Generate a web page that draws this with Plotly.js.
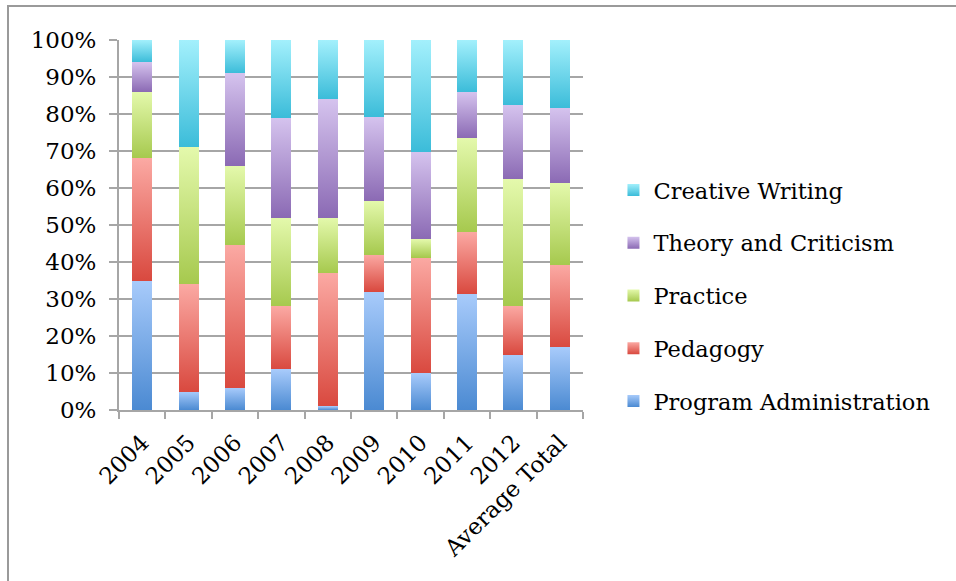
<!DOCTYPE html>
<html>
<head>
<meta charset="utf-8">
<script src="https://cdn.plot.ly/plotly-3.0.1.min.js"></script>
<style>
  html, body { margin: 0; padding: 0; background: #fff; }
  #wrap { position: relative; width: 956px; height: 581px; overflow: hidden; }
  #chart { position: absolute; left: 0; top: 0; width: 956px; height: 581px; }
  #frame { position: absolute; left: 7px; top: 5px; width: 1200px; height: 800px;
           border-left: 2px solid #9a9a9a; border-top: 2px solid #9a9a9a; pointer-events: none; }
</style>
</head>
<body>
<div id="wrap"><div id="chart"></div><div id="frame"></div></div>
<script>
const categories = ["2004","2005","2006","2007","2008","2009","2010","2011","2012","Average Total"];
const programAdministration = [35, 5, 6, 11, 1, 32, 10, 31.4, 14.9, 17.0];
const pedagogy              = [33, 29, 38.5, 17, 36, 10, 31.2, 16.7, 13.3, 22.2];
const practice              = [18, 37, 21.5, 24, 15, 14.5, 5, 25.4, 34.2, 22.2];
const theoryAndCriticism    = [8, 0, 25, 27, 32, 22.7, 23.5, 12.4, 20.0, 20.2];
const creativeWriting       = [6, 29, 9, 21, 16, 20.8, 30.3, 14.1, 17.6, 18.4];

const seriesNames = ["Program Administration","Pedagogy","Practice","Theory and Criticism","Creative Writing"];
const seriesValues = [programAdministration, pedagogy, practice, theoryAndCriticism, creativeWriting];
const midColors = ["#7aa9e4","#ea7a72","#c8e187","#b39cd6","#70d5ea"];
const gradTop = ["#a8cbfb","#fba9a3","#e4f9ac","#d5c3ee","#a3f0fc"];
const gradBot = ["#4b8ad2","#d9493f","#a6c94e","#8b6ab4","#3bbcd9"];

const FONT = "'DejaVu Serif', serif";
const FS = 23;
const LFS = 22.5;

const traces = seriesNames.map((name, i) => ({
  type: "bar",
  name: name,
  x: categories,
  y: seriesValues[i],
  legendgroup: "g" + i,
  legendrank: 100 - i,
  marker: { color: midColors[i], line: { width: 0 } },
  hoverinfo: "skip"
}));

const layout = {
  width: 956, height: 581,
  margin: { l: 119, r: 373, t: 40, b: 171 },
  paper_bgcolor: "#ffffff", plot_bgcolor: "#ffffff",
  barmode: "stack",
  bargap: 0.57,
  showlegend: true,
  font: { family: FONT, size: FS, color: "#000" },
  xaxis: {
    type: "category",
    tickangle: -45,
    tickson: "boundaries",
    ticks: "outside", ticklen: 7, tickwidth: 2, tickcolor: "#a6a6a6",
    ticklabelstandoff: 8,
    showline: true, linecolor: "#a6a6a6", linewidth: 2,
    showgrid: false,
    tickfont: { family: FONT, size: FS, color: "#000" },
    automargin: false
  },
  yaxis: {
    range: [0, 100],
    tickvals: [0,10,20,30,40,50,60,70,80,90,100],
    ticktext: ["0%","10%","20%","30%","40%","50%","60%","70%","80%","90%","100%"],
    ticks: "outside", ticklen: 8, tickwidth: 2, tickcolor: "#a6a6a6",
    ticklabelstandoff: 8,
    showline: true, linecolor: "#a6a6a6", linewidth: 2,
    showgrid: true, gridcolor: "#a6a6a6", gridwidth: 2,
    zeroline: false,
    tickfont: { family: FONT, size: FS, color: "#000" },
    automargin: false
  },
  legend: {
    xref: "container", x: 0.6417, xanchor: "left",
    y: 0.652, yanchor: "top",
    traceorder: "grouped",
    tracegroupgap: 20.5,
    font: { family: FONT, size: LFS, color: "#000" },
    itemclick: false, itemdoubleclick: false,
    bgcolor: "rgba(0,0,0,0)"
  }
};

Plotly.newPlot("chart", traces, layout, { staticPlot: true, displayModeBar: false }).then(gd => {
  const svg = gd.querySelector(".main-svg");
  const NS = "http://www.w3.org/2000/svg";
  let defs = svg.querySelector("defs");
  if (!defs) { defs = document.createElementNS(NS, "defs"); svg.insertBefore(defs, svg.firstChild); }
  seriesNames.forEach((n, i) => {
    const lg = document.createElementNS(NS, "linearGradient");
    lg.setAttribute("id", "grad" + i);
    lg.setAttribute("x1", "0"); lg.setAttribute("y1", "0");
    lg.setAttribute("x2", "0"); lg.setAttribute("y2", "1");
    const s1 = document.createElementNS(NS, "stop");
    s1.setAttribute("offset", "0"); s1.setAttribute("stop-color", gradTop[i]);
    const s2 = document.createElementNS(NS, "stop");
    s2.setAttribute("offset", "1"); s2.setAttribute("stop-color", gradBot[i]);
    lg.appendChild(s1); lg.appendChild(s2);
    defs.appendChild(lg);
  });
  gd.querySelectorAll(".barlayer .trace.bars").forEach((t, i) => {
    t.querySelectorAll("path").forEach(p => { p.style.fill = "url(#grad" + i + ")"; });
  });
  gd.querySelectorAll(".legend .traces").forEach(t => {
    const name = t.querySelector(".legendtext").textContent;
    const i = seriesNames.indexOf(name);
    t.querySelectorAll(".legendpoints path").forEach(p => { p.style.fill = "url(#grad" + i + ")"; p.style.stroke = "none"; });
  });
});
</script>
</body>
</html>
